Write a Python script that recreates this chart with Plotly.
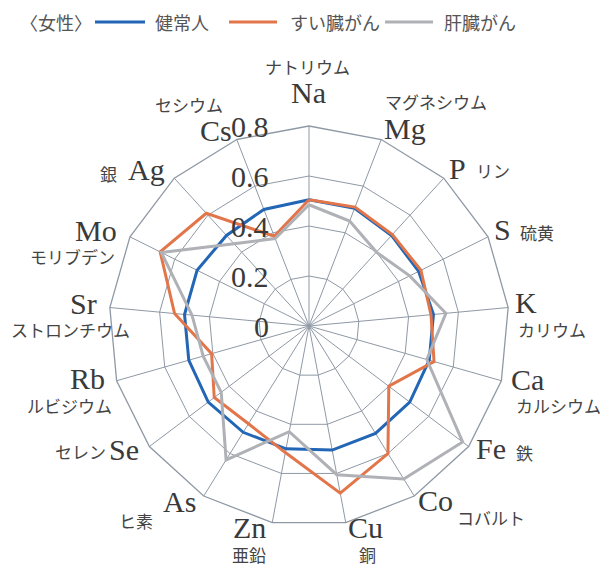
import math
import plotly.graph_objects as go

# ---------------- data ----------------
symbols = ["Na", "Mg", "P", "S", "K", "Ca", "Fe", "Co", "Cu",
           "Zn", "As", "Se", "Rb", "Sr", "Mo", "Ag", "Cs"]
names_jp = ["ナトリウム", "マグネシウム", "リン", "硫黄", "カリウム", "カルシウム", "鉄",
            "コバルト", "銅", "亜鉛", "ヒ素", "セレン", "ルビジウム", "ストロンチウム",
            "モリブデン", "銀", "セシウム"]
healthy = [0.505, 0.505, 0.49, 0.49, 0.50, 0.50, 0.505, 0.505, 0.505,
           0.50, 0.50, 0.505, 0.50, 0.50, 0.50, 0.49, 0.50]
pancreas = [0.505, 0.51, 0.495, 0.50, 0.49, 0.52, 0.40, 0.60, 0.68,
            0.515, 0.46, 0.475, 0.405, 0.54, 0.665, 0.61, 0.385]
liver = [0.485, 0.45, 0.40, 0.45, 0.55, 0.49, 0.77, 0.72, 0.605,
         0.43, 0.63, 0.44, 0.44, 0.47, 0.66, 0.445, 0.375]
series_names = ["健常人", "すい臓がん", "肝臓がん"]
radial_ticks = [0, 0.2, 0.4, 0.6, 0.8]
legend_title = "〈女性〉"

# ---------------- style ----------------
W, H = 609, 567
PAGE_OFF = 8                         # default <body> margin of the html page
CX, CY, RO = 309, 326, 200          # polar centre / outer radius (screen px)
RMAX = 0.8
colors = ["#2366b5", "#e2764a", "#afb1b6"]
grid_col = "#8f99a5"
serif = "Liberation Serif"
sans = "Noto Sans CJK JP"
JP_SIZE = 17

# label nudges (px, relative to spoke point at R_LAB) and jp offsets (relative to symbol)
R_LAB = 222
sym_nudge = [(-1, -11.5), (16, 10), (-1, 7), (-5, 2), (-4, -3.5), (4.5, -7.7), (5, -11),
             (10, -14), (16, -17), (-19, -17), (-13, -13), (-8, -10), (-7.5, -8),
             (-4, -2.5), (-14, 3), (-13, 8), (-13, 12)]
jp_off = [(-1, -26.5), (31, -27), (35, 2), (34, 3), (26, 27), (31, 26), (33, 4),
          (55, 17), (2, 27), (0, 27), (-43, 19), (-43, 2), (-18, 27), (-13, 26),
          (-24, 26), (-38, 4), (-27, -26)]

def px2paper(x, y):
    return (x - PAGE_OFF) / W, 1 - (y - PAGE_OFF) / H

fig = go.Figure()
for vals, col, nm in zip([healthy, pancreas, liver], colors, series_names):
    fig.add_trace(go.Scatterpolar(
        r=vals + vals[:1], theta=symbols + symbols[:1], mode="lines",
        line=dict(color=col, width=3), name=nm, showlegend=False,
        hoverinfo="skip"))

x0, y1 = px2paper(CX - RO, CY - RO)
x1, y0 = px2paper(CX + RO, CY + RO)
fig.update_layout(
    width=W, height=H, margin=dict(l=0, r=0, t=0, b=0),
    paper_bgcolor="white", plot_bgcolor="white",
    polar=dict(
        domain=dict(x=[x0, x1], y=[y0, y1]),
        bgcolor="white", gridshape="linear",
        angularaxis=dict(type="category", categoryorder="array", categoryarray=symbols,
                         direction="clockwise", rotation=90, showticklabels=False,
                         ticks="", gridcolor=grid_col, gridwidth=1.2,
                         showline=True, linecolor=grid_col, linewidth=1.3),
        radialaxis=dict(range=[0, RMAX], tickvals=radial_ticks, showticklabels=False,
                        ticks="", showline=False, gridcolor=grid_col, gridwidth=1.2),
    ),
)

ann = []
n = len(symbols)
for k in range(n):
    th = math.radians(360.0 * k / n)
    sx = CX + R_LAB * math.sin(th) + sym_nudge[k][0]
    sy = CY - R_LAB * math.cos(th) + sym_nudge[k][1]
    ax, ay = px2paper(sx, sy)
    ann.append(dict(x=ax, y=ay, xref="paper", yref="paper", text=symbols[k],
                    showarrow=False, xanchor="center", yanchor="middle",
                    font=dict(family=serif, size=30, color="#3a3a3a")))
    jx, jy = px2paper(sx + jp_off[k][0], sy + jp_off[k][1])
    ann.append(dict(x=jx, y=jy, xref="paper", yref="paper", text=names_jp[k],
                    showarrow=False, xanchor="center", yanchor="middle",
                    font=dict(family=sans, size=JP_SIZE, color="#444444")))

# radial tick labels
for v in radial_ticks:
    tx, ty = px2paper(CX - 38, CY - RO * v / RMAX)
    ann.append(dict(x=tx, y=ty, xref="paper", yref="paper", text=f"{v:g}",
                    showarrow=False, xanchor="right", yanchor="middle",
                    font=dict(family=serif, size=30, color="#3a3a3a")))

# legend (manual)
lx, ly = px2paper(56, 22)
ann.append(dict(x=lx, y=ly, xref="paper", yref="paper", text=legend_title,
                showarrow=False, xanchor="center", yanchor="middle",
                font=dict(family=sans, size=18, color="#555555")))
leg_line = [(95, 145), (229, 277), (385, 433)]
leg_text_x = [153, 288, 442]
shapes = []
for (a, b), tx, col, nm in zip(leg_line, leg_text_x, colors, series_names):
    xa, yy = px2paper(a, 22)
    xb, _ = px2paper(b, 22)
    shapes.append(dict(type="line", xref="paper", yref="paper", x0=xa, x1=xb,
                       y0=yy, y1=yy, line=dict(color=col, width=3)))
    t_x, t_y = px2paper(tx, 22)
    ann.append(dict(x=t_x, y=t_y, xref="paper", yref="paper", text=nm,
                    showarrow=False, xanchor="left", yanchor="middle",
                    font=dict(family=sans, size=18, color="#555555")))

fig.update_layout(annotations=ann, shapes=shapes)
fig.write_html("out.html")
